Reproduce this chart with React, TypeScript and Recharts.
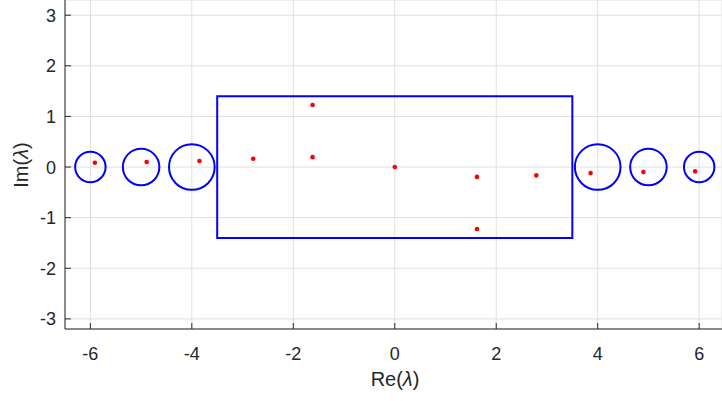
import { ScatterChart, Scatter, XAxis, YAxis, CartesianGrid, ReferenceArea, ReferenceDot } from "recharts";

// eigenvalues (red dots)
const reValues = [-5.91, -4.89, -3.85, -2.79, -1.62, -1.62, 0, 1.62, 1.62, 2.79, 3.86, 4.9, 5.92];
const imValues = [0.085, 0.1, 0.12, 0.165, 1.225, 0.195, 0, -0.195, -1.225, -0.165, -0.12, -0.1, -0.085];

// inclusion discs
const discRe = [-6, -5, -4, 4, 5, 6];
const discRadius = [0.3, 0.36, 0.45, 0.45, 0.36, 0.3];

// rectangle bounds
const boxRe = [-3.5, 3.5];
const boxIm = [-1.4, 1.4];

const xTicks = [-6, -4, -2, 0, 2, 4, 6];
const yTicks = [-3, -2, -1, 0, 1, 2, 3];
const xDomain = [-6.5, 6.45];
const yDomain = [-3.2, 3.3];

const W = 722;
const H = 401;
const LEFT = 65;
const AXIS_H = 72;
const AXIS_Y = H - AXIS_H;
const PX_PER_UNIT = (W - LEFT) / (xDomain[1] - xDomain[0]);

const FONT = "'Liberation Sans', Arial, sans-serif";
const INK = "#262626";
const BLUE = "#0000ff";

const points = reValues.map((re, i) => ({ re, im: imValues[i] }));

function XTick({ x, payload }: any) {
  return (
    <g>
      <line x1={x} x2={x} y1={AXIS_Y} y2={AXIS_Y - 6} stroke={INK} strokeWidth={1} />
      <text x={x} y={360} textAnchor="middle" fontFamily={FONT} fontSize={18} fill={INK}>
        {payload.value}
      </text>
    </g>
  );
}

function YTick({ y, payload }: any) {
  return (
    <g>
      <line x1={LEFT} x2={LEFT + 6} y1={y} y2={y} stroke={INK} strokeWidth={1} />
      <text x={56} y={y + 6.5} textAnchor="end" fontFamily={FONT} fontSize={18} fill={INK}>
        {payload.value}
      </text>
    </g>
  );
}

const Dot = ({ cx, cy }: any) => <circle cx={cx} cy={cy} r={2.3} fill="#ff0000" />;

export default function App() {
  return (
    <div style={{ position: "absolute", left: 0, top: 0, width: W, height: H, background: "#fff" }}>
      <ScatterChart width={W} height={H} margin={{ top: 0, right: 0, bottom: 0, left: 0 }}>
        <CartesianGrid stroke="#dfdfdf" strokeWidth={1} />
        <XAxis
          type="number"
          dataKey="re"
          domain={xDomain}
          ticks={xTicks}
          allowDataOverflow
          height={AXIS_H}
          tickSize={0}
          tickLine={false}
          tick={<XTick />}
          axisLine={{ stroke: INK, strokeWidth: 1 }}
          label={{
            content: () => (
              <text x={395} y={386} textAnchor="middle" fontFamily={FONT} fontSize={20} fill={INK}>
                Re(<tspan fontStyle="italic">λ</tspan>)
              </text>
            ),
          }}
        />
        <YAxis
          type="number"
          dataKey="im"
          domain={yDomain}
          ticks={yTicks}
          allowDataOverflow
          width={LEFT}
          tickSize={0}
          tickLine={false}
          tick={<YTick />}
          axisLine={{ stroke: INK, strokeWidth: 1 }}
          label={{
            content: () => (
              <text
                transform="translate(28,165) rotate(-90)"
                textAnchor="middle"
                fontFamily={FONT}
                fontSize={20}
                fill={INK}
              >
                Im(<tspan fontStyle="italic">λ</tspan>)
              </text>
            ),
          }}
        />
        <ReferenceArea
          x1={boxRe[0]}
          x2={boxRe[1]}
          y1={boxIm[0]}
          y2={boxIm[1]}
          fill="none"
          fillOpacity={0}
          stroke={BLUE}
          strokeWidth={2}
        />
        {discRe.map((re, i) => (
          <ReferenceDot
            key={i}
            x={re}
            y={0}
            r={discRadius[i] * PX_PER_UNIT}
            fill="none"
            stroke={BLUE}
            strokeWidth={2}
          />
        ))}
        <Scatter data={points} shape={<Dot />} isAnimationActive={false} />
      </ScatterChart>
    </div>
  );
}
